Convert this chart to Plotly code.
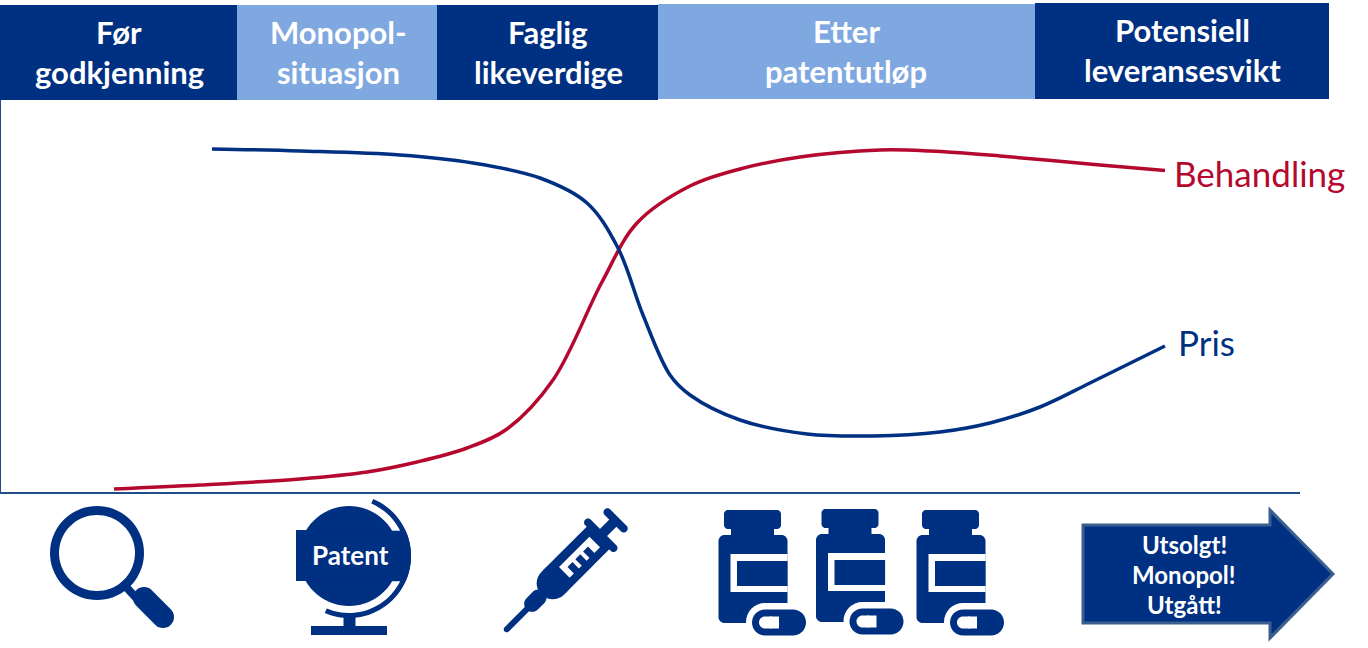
import math
import plotly.graph_objects as go

# ---- data (curve values: x = horizontal position along the timeline, y = height above baseline)
behandling_x = [114, 200, 300, 367, 417, 467, 507, 553, 602, 637, 690, 740, 800, 880, 930, 1000, 1100, 1165]
behandling_y = [3, 7, 13, 20, 30, 44, 63, 112, 210, 269, 306, 323, 335, 342, 341, 336, 327, 321.5]
pris_x = [212, 300, 400, 473, 540, 587, 618, 643, 670, 690, 740, 807, 873, 940, 990, 1040, 1090, 1165]
pris_y = [343, 341, 337, 329, 314, 289, 244, 177, 117, 97, 72, 58, 56, 60, 69, 85, 109, 146]

header_labels = [["Før", "godkjenning"], ["Monopol-", "situasjon"], ["Faglig", "likeverdige"],
                 ["Etter", "patentutløp"], ["Potensiell", "leveransesvikt"]]
arrow_labels = ["Utsolgt!", "Monopol!", "Utgått!"]
patent_label = "Patent"
series_names = ["Behandling", "Pris"]

DARK = "#003082"
LIGHT = "#7FA8E0"
RED = "#B5082E"
AXIS = "#1F4E87"
FONT = "Lato, 'Open Sans', sans-serif"

W, H = 1368, 648
L, R, T, B = 1, 1300, 100, 492  # plot area in page pixels


def px(x):
    return (x - L) / (R - L)


def py(y):
    return (B - y) / (B - T)


def path(points):
    return "M" + "L".join(f"{px(x):.5f},{py(y):.5f}" for x, y in points) + "Z"


def ellipse(cx, cy, rx, ry=None, a0=0, a1=360, n=72):
    ry = rx if ry is None else ry
    return [(cx + rx * math.cos(math.radians(a0 + (a1 - a0) * i / n)),
             cy + ry * math.sin(math.radians(a0 + (a1 - a0) * i / n))) for i in range(n + 1)]


def rect(x0, y0, x1, y1):
    return [(x0, y0), (x1, y0), (x1, y1), (x0, y1)]


def rrect(x0, y0, x1, y1, r):
    pts = []
    pts += ellipse(x1 - r, y0 + r, r, a0=-90, a1=0, n=8)
    pts += ellipse(x1 - r, y1 - r, r, a0=0, a1=90, n=8)
    pts += ellipse(x0 + r, y1 - r, r, a0=90, a1=180, n=8)
    pts += ellipse(x0 + r, y0 + r, r, a0=180, a1=270, n=8)
    return pts


def capsule(x0, y0, x1, y1, hw):
    a = math.degrees(math.atan2(y1 - y0, x1 - x0))
    return ellipse(x1, y1, hw, a0=a - 90, a1=a + 90, n=16) + ellipse(x0, y0, hw, a0=a + 90, a1=a + 270, n=16)


def ring_arc(cx, cy, r0, r1, a0, a1):
    return ellipse(cx, cy, r1, a0=a0, a1=a1, n=48) + ellipse(cx, cy, r0, a0=a1, a1=a0, n=48)


shapes = []


def add(points, fill=DARK, line=None, lw=0):
    shapes.append(dict(type="path", path=path(points), xref="paper", yref="paper", fillcolor=fill,
                       line=dict(color=line or fill, width=lw), layer="above"))


# header blocks
for x0, y0, x1, y1, c in [(0, 5, 237, 100, DARK), (237, 5, 437, 100, LIGHT), (437, 5, 658, 100, DARK),
                          (658, 4, 1035, 99, LIGHT), (1035, 3, 1329, 99, DARK)]:
    add(rect(x0, y0, x1, y1), c)

# magnifier
add(ellipse(97, 553, 47) + ellipse(97, 553, 38))
add(capsule(127, 588, 140, 602, 4))
add(capsule(144, 598, 163, 617, 11))

# globe
add(ellipse(349, 556, 50))
add([(296, 530), (296, 581)] + ellipse(349, 556, 62, a0=24, a1=-24, n=16))
add(ring_arc(349, 556, 57, 62, -67, 113))
add(rect(343.5, 616, 355.5, 627))
add(rect(311, 626, 387, 635))


# syringe: local frame along the 45 degree axis from the needle tip
def syr(u, v):
    return (506 + (u + v) * 0.7071, 630 - (u - v) * 0.7071)


def syr_rect(u0, u1, v0, v1):
    return [syr(u0, v0), syr(u1, v0), syr(u1, v1), syr(u0, v1)]


add(capsule(*syr(1, 0), *syr(36, 0), 3))
add(capsule(*syr(37, 0), *syr(46, 0), 8))
add(capsule(*syr(66, 0), *syr(70, 0), 16))
add(syr_rect(68, 134, -16, 16))
add(capsule(*syr(134, -18), *syr(134, 18), 4))
add(syr_rect(134, 155, -5, 5))
add(capsule(*syr(155, -11.5), *syr(155, 11.5), 4))
# scale window
add(syr_rect(82, 125, -7, 8), "white")
for u in [88, 99, 110]:
    add(syr_rect(u, u + 7, -1, 9))


# bottles with capsules
for dx, dy in [(0, 0), (97.5, -1), (198, 0)]:
    add(rrect(724 + dx, 510 + dy, 781 + dx, 529 + dy, 4))
    add(rect(731 + dx, 528 + dy, 774 + dx, 536 + dy))
    body = rrect(718.5 + dx, 535 + dy, 787.5 + dx, 623 + dy, 6)
    add(body)
    add(rect(730.5 + dx, 554 + dy, 787.6 + dx, 592 + dy), "white")
    add(rect(737 + dx, 561 + dy, 787.6 + dx, 586 + dy))
    add(capsule(765 + dx, 622 + dy, 793 + dx, 622 + dy, 19), "white")
    add(capsule(765 + dx, 622.5 + dy, 793 + dx, 622.5 + dy, 13))
    add(capsule(765 + dx, 622.5 + dy, 770 + dx, 622.5 + dy, 6), "white")
    add(rect(770 + dx, 616.5 + dy, 779 + dx, 628.5 + dy), "white")

# arrow
add([(1083, 525), (1270, 525), (1270, 510), (1333, 574), (1270, 638), (1270, 623), (1083, 623)],
    DARK, "#3B6090", 3)

# ---- text
annotations = []


def text(x, y, s, size, color="white", bold=True, anchor="center"):
    annotations.append(dict(x=px(x), y=py(y), xref="paper", yref="paper", text=f"<b>{s}</b>" if bold else s,
                            showarrow=False, xanchor=anchor, yanchor="middle", align="center",
                            font=dict(family=FONT, size=size, color=color)))


for lab, x, y1, y2 in zip(header_labels, [119, 339, 548, 846, 1182], [32, 32, 32, 31, 30], [72, 72, 72, 71, 70]):
    text(x, y1, lab[0], 31)
    text(x, y2, lab[1], 31)
for lab, y in zip(arrow_labels, [544, 574, 604]):
    text(1184, y, lab, 24)
text(350, 555, patent_label, 26)
text(1172, 173, series_names[0], 35, RED, False, "left")
text(1176, 342, series_names[1], 35, DARK, False, "left")

fig = go.Figure()
fig.add_trace(go.Scatter(x=behandling_x, y=behandling_y, name=series_names[0], mode="lines",
                         line=dict(color=RED, width=3.5, shape="spline", smoothing=1)))
fig.add_trace(go.Scatter(x=pris_x, y=pris_y, name=series_names[1], mode="lines",
                         line=dict(color=DARK, width=3.5, shape="spline", smoothing=1)))
fig.update_layout(
    width=W, height=H, showlegend=False, paper_bgcolor="white", plot_bgcolor="white",
    margin=dict(l=L, r=W - R, t=T, b=H - B, pad=0, autoexpand=False),
    shapes=shapes, annotations=annotations, hovermode=False,
    xaxis=dict(range=[L, R], showgrid=False, zeroline=False, showticklabels=False, ticks="",
               showline=True, linecolor=AXIS, linewidth=2),
    yaxis=dict(range=[0, B - T], showgrid=False, zeroline=False, showticklabels=False, ticks="",
               showline=True, linecolor=AXIS, linewidth=2),
)
fig.write_html("out.html", config=dict(displayModeBar=False),
               post_script="document.body.style.margin='0';")
